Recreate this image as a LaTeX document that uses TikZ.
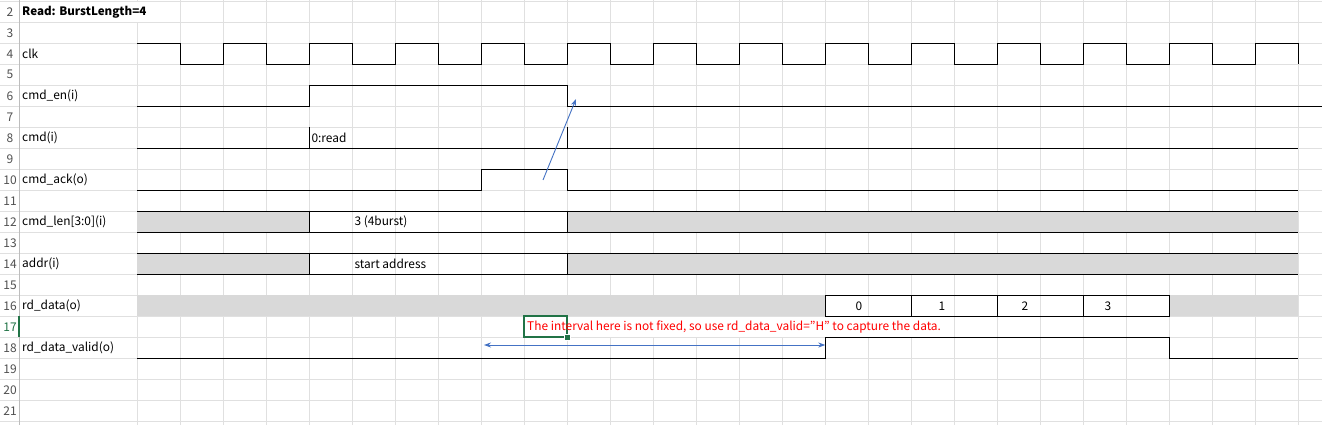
\documentclass[tikz,border=0pt]{standalone}
\usepackage{fontspec}
\setmainfont{Noto Sans CJK JP}
\usetikzlibrary{arrows.meta}
\definecolor{gridc}{HTML}{E0E0E0}
\definecolor{hdrc}{HTML}{BDBDBD}
\definecolor{fillg}{HTML}{D9D9D9}
\definecolor{selg}{HTML}{217346}
\definecolor{arrb}{HTML}{4472C4}
\definecolor{numc}{HTML}{505050}
\begin{document}
\begin{tikzpicture}[x=1pt,y=-1pt,
  declare function={cx(\k)=137.3+43*\k; ry(\r)=22.3+(\r-3)*21; rm(\r)=22.3+(\r-3)*21+10.5;},
  sig/.style={black,line width=1.2pt},
  gl/.style={gridc,line width=0.9pt},
  lbl/.style={anchor=west,inner sep=0pt,font=\fontsize{11.9}{13}\selectfont},
  rn/.style={anchor=center,inner sep=0pt,text=numc,font=\fontsize{12}{13}\selectfont},
  barrow/.style={arrb,line width=0.9pt}]
\useasboundingbox (0,0) rectangle (1322,425);
\fill[white] (0,0) rectangle (1322,425);
% grid
\foreach \r in {2,...,22} \draw[gl] (0,{ry(\r)}) -- (1322,{ry(\r)});
\foreach \k in {0,...,27} \draw[gl] ({cx(\k)},0) -- ({cx(\k)},425);
% hide grid behind overflowing text
\fill[white] ({cx(0)-2},{ry(2)+0.6}) rectangle ({cx(0)+2},{ry(3)-0.6});
\fill[white] ({cx(9)+2},{ry(17)+0.6}) rectangle ({cx(19)-2},{ry(18)-0.6});
\draw[hdrc,line width=1pt] (19,0) -- (19,425);
\draw[selg,line width=2pt] (19,{ry(17)}) -- (19,{ry(18)});
% row numbers
\foreach \r in {2,...,16,18,19,20,21} \node[rn] (rn\r) at (10,{rm(\r)}) {\r};
\node[rn,text=selg] (rn17) at (10,{rm(17)}) {17};
% title and labels
\node[lbl,font=\fontsize{11.6}{13}\selectfont\bfseries] (title) at (22,{rm(2)}) {Read: BurstLength=4};
\node[lbl] (lclk) at (22,{rm(4)}) {clk};
\node[lbl] (len) at (22,{rm(6)}) {cmd\_en(i)};
\node[lbl] (lcmd) at (22,{rm(8)}) {cmd(i)};
\node[lbl] (lack) at (22,{rm(10)}) {cmd\_ack(o)};
\node[lbl] (llen) at (22,{rm(12)}) {cmd\_len[3:0](i)};
\node[lbl] (laddr) at (22,{rm(14)}) {addr(i)};
\node[lbl] (lrd) at (22,{rm(16)}) {rd\_data(o)};
\node[lbl] (lvalid) at (22,{rm(18)}) {rd\_data\_valid(o)};
% clk
\draw[sig] ({cx(0)},{ry(4)})
  \foreach \k in {1,3,...,25} { -- ({cx(\k)},{ry(4)}) -- ({cx(\k)},{ry(5)}) -- ({cx(\k+1)},{ry(5)}) -- ({cx(\k+1)},{ry(4)}) }
  -- ({cx(27)},{ry(4)}) -- ({cx(27)},{ry(5)});
% cmd_en
\draw[sig] ({cx(0)},{ry(7)}) -- ({cx(4)},{ry(7)}) -- ({cx(4)},{ry(6)}) -- ({cx(10)},{ry(6)}) -- ({cx(10)},{ry(7)}) -- (1322,{ry(7)});
% cmd
\draw[sig] ({cx(0)},{ry(9)}) -- ({cx(27)},{ry(9)});
\draw[sig] ({cx(4)},{ry(8)}) -- ({cx(4)},{ry(9)});
\draw[sig] ({cx(10)},{ry(8)}) -- ({cx(10)},{ry(9)});
\node[lbl] (vcmd) at ({cx(4)+2},{rm(8)}) {0:read};
% cmd_ack
\draw[sig] ({cx(0)},{ry(11)}) -- ({cx(8)},{ry(11)}) -- ({cx(8)},{ry(10)}) -- ({cx(10)},{ry(10)}) -- ({cx(10)},{ry(11)}) -- ({cx(27)},{ry(11)});
% cmd_len
\fill[fillg] ({cx(0)},{ry(12)}) rectangle ({cx(4)},{ry(13)});
\fill[fillg] ({cx(10)},{ry(12)}) rectangle ({cx(27)},{ry(13)});
\draw[sig] ({cx(0)},{ry(12)}) -- ({cx(27)},{ry(12)});
\draw[sig] ({cx(0)},{ry(13)}) -- ({cx(27)},{ry(13)});
\draw[sig] ({cx(4)},{ry(12)}) -- ({cx(4)},{ry(13)});
\draw[sig] ({cx(10)},{ry(12)}) -- ({cx(10)},{ry(13)});
\node[lbl] (vlen) at ({cx(5)+2},{rm(12)}) {3 (4burst)};
% addr
\fill[fillg] ({cx(0)},{ry(14)}) rectangle ({cx(4)},{ry(15)});
\fill[fillg] ({cx(10)},{ry(14)}) rectangle ({cx(27)},{ry(15)});
\draw[sig] ({cx(0)},{ry(14)}) -- ({cx(27)},{ry(14)});
\draw[sig] ({cx(0)},{ry(15)}) -- ({cx(27)},{ry(15)});
\draw[sig] ({cx(4)},{ry(14)}) -- ({cx(4)},{ry(15)});
\draw[sig] ({cx(10)},{ry(14)}) -- ({cx(10)},{ry(15)});
\node[lbl] (vaddr) at ({cx(5)+2},{rm(14)}) {start address};
% rd_data
\fill[fillg] ({cx(0)},{ry(16)}) rectangle ({cx(16)},{ry(17)});
\fill[fillg] ({cx(24)},{ry(16)}) rectangle ({cx(27)},{ry(17)});
\draw[sig] ({cx(16)},{ry(16)}) rectangle ({cx(24)},{ry(17)});
\foreach \k in {18,20,22} \draw[sig] ({cx(\k)},{ry(16)}) -- ({cx(\k)},{ry(17)});
\node[lbl,anchor=center] (d0) at (859,{rm(16)}) {0};
\node[lbl,anchor=center] (d1) at (942,{rm(16)}) {1};
\node[lbl,anchor=center] (d2) at (1025,{rm(16)}) {2};
\node[lbl,anchor=center] (d3) at (1108,{rm(16)}) {3};
% rd_data_valid
\draw[sig] ({cx(0)},{ry(19)}) -- ({cx(16)},{ry(19)}) -- ({cx(16)},{ry(18)}) -- ({cx(24)},{ry(18)}) -- ({cx(24)},{ry(19)}) -- ({cx(27)},{ry(19)});
% selected cell
\draw[selg,line width=2pt] ({cx(9)},{ry(17)}) rectangle ({cx(10)},{ry(18)});
\fill[white] ({cx(10)-3.5},{ry(18)-3.5}) rectangle ({cx(10)+3.5},{ry(18)+3.5});
\fill[selg] ({cx(10)-2.6},{ry(18)-2.6}) rectangle ({cx(10)+2.6},{ry(18)+2.6});
% annotation
\node[lbl,text=red] (note) at (527,{rm(17)}) {The interval here is not fixed, so use rd\_data\_valid=\char34 H\char34\ to capture the data.};
% arrows
\coordinate (ackpt) at (543,180);
\coordinate (enpt) at (576,99);
\draw[barrow,-{Stealth[length=7pt,width=5pt]}] (ackpt) -- (enpt);
\coordinate (ivl) at (484,345);
\coordinate (ivr) at ({cx(16)},345);
\draw[barrow,{Stealth[length=7pt,width=5pt]}-{Stealth[length=7pt,width=5pt]}] (ivl) -- (ivr);
\end{tikzpicture}
\end{document}
